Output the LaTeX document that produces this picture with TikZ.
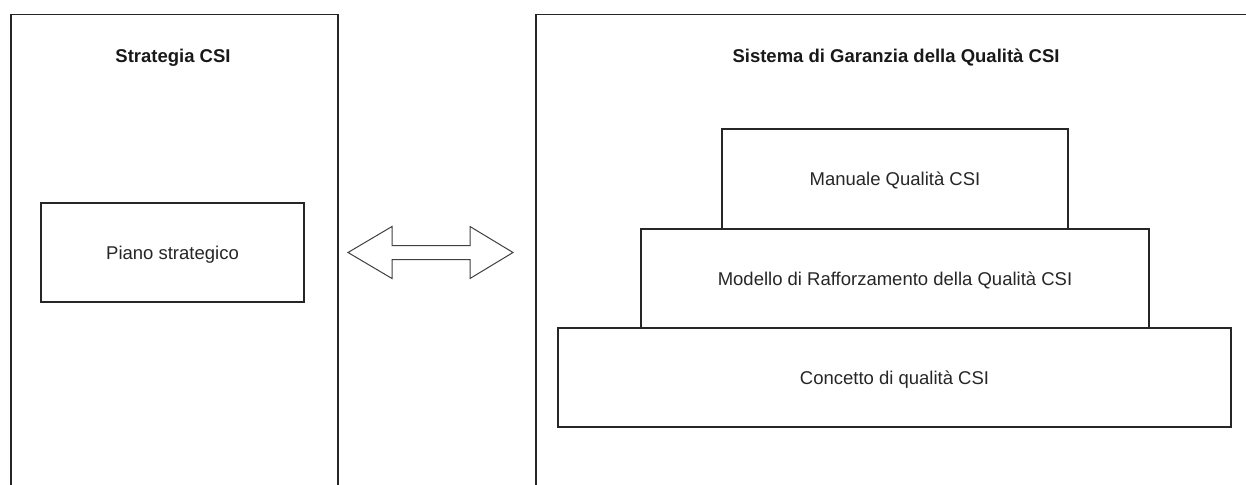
\documentclass[tikz,border=0pt]{standalone}
\usepackage{fontspec}
\setmainfont{Liberation Sans}
\begin{document}
\begin{tikzpicture}[x=1pt,y=-1pt,
  frame/.style={draw=black!85, line width=1.5pt},
  panel/.style={frame, rectangle, inner sep=0pt, anchor=north west},
  box/.style={frame, rectangle, inner sep=0pt, text height=13.3pt, text depth=0pt,
    font=\fontsize{18.5}{22}\selectfont, text=black!85},
  paneltitle/.style={anchor=base, inner sep=0pt, font=\bfseries\fontsize{18.5}{22}\selectfont, text=black!90},
  twoway/.style={draw=black!75, line width=1pt, fill=white, line join=miter}]
\useasboundingbox (0,0) rectangle (1246,484);
\clip (0,0) rectangle (1246,484);
% panels (open at the bottom, run off the picture)
\node[panel, minimum width=327pt, minimum height=520pt] (left) at (10,14) {};
\node[panel, minimum width=760pt, minimum height=520pt] (right) at (535,14) {};
% titles
\node[paneltitle] (lefttitle) at (173,63) {Strategia CSI};
\node[paneltitle] (righttitle) at (896,63) {Sistema di Garanzia della Qualità CSI};
% left box
\node[box, minimum width=263pt, minimum height=99pt] (piano) at (172.5,252.5) {Piano strategico};
% pyramid
\node[box, minimum width=346pt, minimum height=100pt] (manuale) at (895,179) {Manuale Qualità CSI};
\node[box, minimum width=508pt, minimum height=99pt] (modello) at (895,278.5) {Modello di Rafforzamento della Qualità CSI};
\node[box, minimum width=673pt, minimum height=99pt] (concetto) at (894.5,377.5) {Concetto di qualità CSI};
% double arrow
\coordinate (ltip) at (348,252.5);
\coordinate (rtip) at (513,252.5);
\draw[twoway] (ltip) -- ++(44,-26) -- ++(0,19) -- ++(78,0) -- ++(0,-19) -- (rtip)
  -- ++(-43,26) -- ++(0,-19) -- ++(-78,0) -- ++(0,19) -- cycle;
\end{tikzpicture}
\end{document}
